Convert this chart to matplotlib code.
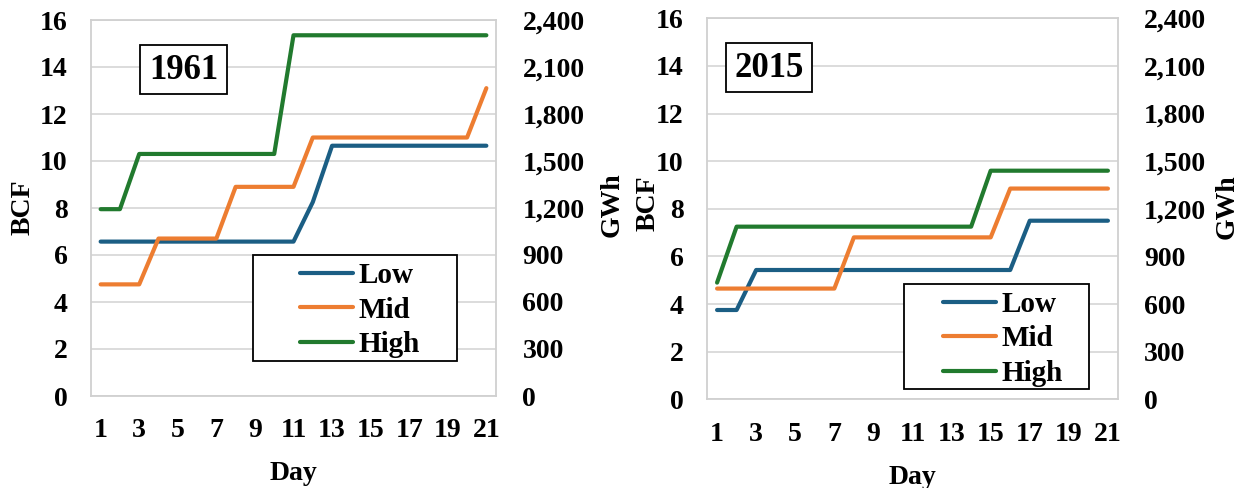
import matplotlib
matplotlib.use("Agg")
import matplotlib.pyplot as plt
from matplotlib.patches import Rectangle
from matplotlib.ticker import FuncFormatter

# ---- data ----
days = list(range(1, 22))
tick_days = [1, 3, 5, 7, 9, 11, 13, 15, 17, 19, 21]
series_names = ["Low", "Mid", "High"]

low_1961 = [6.57] * 11 + [8.25] + [10.65] * 9
mid_1961 = [4.75] * 3 + [6.7] * 4 + [8.9] * 4 + [11.0] * 9 + [13.1]
high_1961 = [7.95] * 2 + [10.3] * 8 + [15.35] * 11

low_2015 = [3.75] * 2 + [5.43] * 14 + [7.5] * 5
mid_2015 = [4.65] * 7 + [6.8] * 8 + [8.85] * 6
high_2015 = [4.9] + [7.25] * 13 + [9.6] * 7

bcf_ticks = [0, 2, 4, 6, 8, 10, 12, 14, 16]
gwh_ticks = [0, 300, 600, 900, 1200, 1500, 1800, 2100, 2400]

colors = ["#1B5E84", "#ED7D31", "#217A2E"]

plt.rcParams['font.family'] = ['Liberation Serif', 'DejaVu Serif']
plt.rcParams['font.weight'] = 'bold'
FS = 20

fig = plt.figure(figsize=(12.46, 4.88), dpi=100)
W, H = 1246, 488

panels = [
    dict(title="1961", data=[low_1961, mid_1961, high_1961],
         rect=[91 / W, 1 - 396 / H, 405 / W, 376 / H],
         title_box=(140, 45, 227, 94),
         leg_box=(253, 255, 457, 361), leg_anchor=(300, 310),
         bcf_xy=(23, 207), gwh_xy=(612, 205), day_xy=(293, 473)),
    dict(title="2015", data=[low_2015, mid_2015, high_2015],
         rect=[707.3 / W, 1 - 399.3 / H, 410.4 / W, 381 / H],
         title_box=(726, 43, 812, 92),
         leg_box=(904, 284, 1089, 389), leg_anchor=(943, 339),
         bcf_xy=(648, 203), gwh_xy=(1227, 207), day_xy=(912, 477)),
]


def fx(x):
    return x / W


def fy(y):
    return 1 - y / H


for p in panels:
    ax = fig.add_axes(p["rect"])
    ax.set_xlim(0.5, 21.5)
    ax.set_ylim(0, 16)
    ax.set_yticks(bcf_ticks)
    ax.set_xticks(tick_days)
    ax.grid(axis='y', color='#D9D9D9', linewidth=1.3, zorder=0)
    for s in ax.spines.values():
        s.set_color('#D0D0D0')
        s.set_linewidth(1.3)
    ax.tick_params(axis='both', length=0, labelsize=FS)
    ax.tick_params(axis='x', pad=16)
    ax.tick_params(axis='y', pad=17)
    lines = []
    for vals, c, name in zip(p["data"], colors, series_names):
        ln, = ax.plot(days, vals, color=c, linewidth=3.0,
                      solid_capstyle='round', solid_joinstyle='round',
                      label=name, zorder=3)
        lines.append(ln)

    ax2 = ax.twinx()
    ax2.set_ylim(0, 2400)
    ax2.set_yticks(gwh_ticks)
    ax2.yaxis.set_major_formatter(FuncFormatter(lambda v, pos: f"{int(v):,}"))
    ax2.tick_params(axis='y', length=0, labelsize=FS, pad=19)
    for s in ax2.spines.values():
        s.set_visible(False)

    # axis titles
    bx, by = p["bcf_xy"]
    fig.text(fx(bx), fy(by), "BCF", fontsize=FS, fontweight='bold',
             rotation=90, ha='center', va='center')
    gx, gy = p["gwh_xy"]
    fig.text(fx(gx), fy(gy), "GWh", fontsize=FS, fontweight='bold',
             rotation=90, ha='center', va='center')
    dx, dy = p["day_xy"]
    fig.text(fx(dx), fy(dy), "Day", fontsize=FS, fontweight='bold',
             ha='center', va='center')

    # title box
    x0, y0, x1, y1 = p["title_box"]
    fig.patches.append(Rectangle((fx(x0), fy(y1)), (x1 - x0) / W, (y1 - y0) / H,
                                 transform=fig.transFigure, facecolor='white',
                                 edgecolor='black', linewidth=1.3, zorder=5))
    fig.text(fx((x0 + x1) / 2), fy((y0 + y1) / 2 + 1), p["title"], fontsize=25,
             fontweight='bold', ha='center', va='center', zorder=6)

    # legend box
    x0, y0, x1, y1 = p["leg_box"]
    fig.patches.append(Rectangle((fx(x0), fy(y1)), (x1 - x0) / W, (y1 - y0) / H,
                                 transform=fig.transFigure, facecolor='white',
                                 edgecolor='black', linewidth=1.3, zorder=5))
    lx, ly = p["leg_anchor"]
    leg = fig.legend(handles=lines, loc='center left',
                     bbox_to_anchor=(fx(lx), fy(ly)),
                     bbox_transform=fig.transFigure, frameon=False,
                     borderpad=0, borderaxespad=0, handlelength=1.8,
                     handletextpad=0.2, labelspacing=0.26,
                     prop=dict(weight='bold', size=FS + 1))
    leg.set_zorder(6)

fig.savefig("out.png", dpi=100)
